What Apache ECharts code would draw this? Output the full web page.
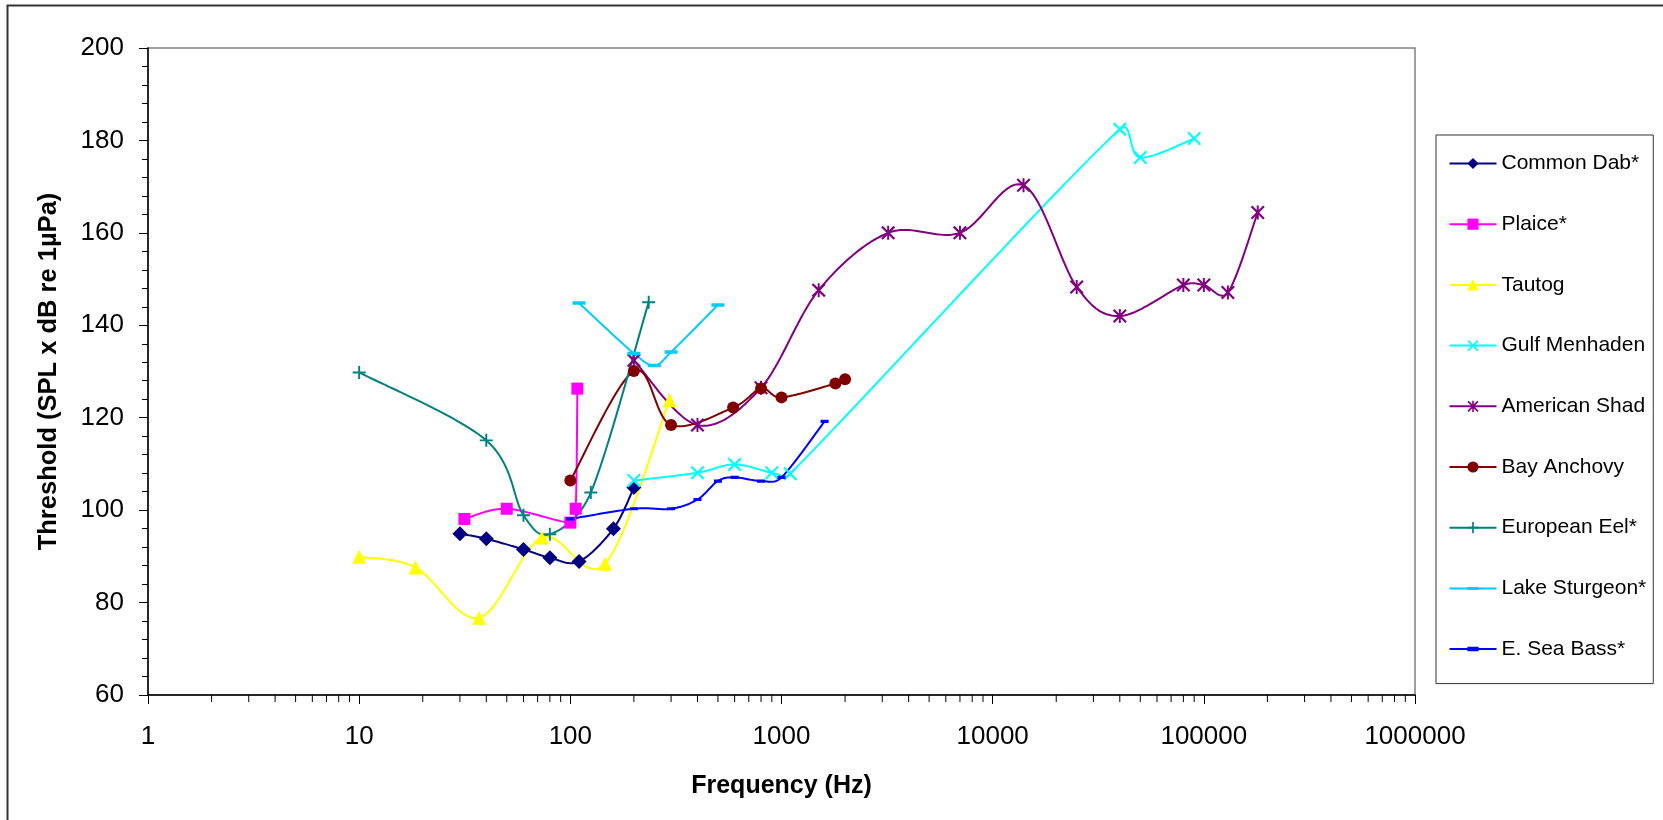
<!DOCTYPE html>
<html>
<head>
<meta charset="utf-8">
<script src="https://cdn.jsdelivr.net/npm/echarts@6/dist/echarts.min.js"></script>
<style>
html,body{margin:0;padding:0;background:#fff;}
#chart{width:1663px;height:820px;}
</style>
</head>
<body>
<div id="chart"></div>
<script>
// ---- data ----
const seriesNames = ['Common Dab*','Plaice*','Tautog','Gulf Menhaden','American Shad','Bay Anchovy','European Eel*','Lake Sturgeon*','E. Sea Bass*'];
const xTickLabels = ['1','10','100','1000','10000','100000','1000000'];
const yTickLabels = [60,80,100,120,140,160,180,200];
const xMinorTicks = [2,3,4,5,6,7,8,9,20,30,40,50,60,70,80,90,200,300,400,500,600,700,800,900,
  2000,3000,4000,5000,6000,7000,8000,9000,20000,30000,40000,50000,60000,70000,80000,90000,
  200000,300000,400000,500000,600000,700000,800000,900000];

const dabFreq = [30,40,60,80,110,160,200];
const dabThr  = [94.9,93.8,91.5,89.7,88.9,96.0,104.9];

const plaiceFreq = [31.5,50,100,106,108];
const plaiceThr  = [98.1,100.3,97.3,100.3,126.3];

const tautogFreq = [10,18.5,37,73.5,146,295];
const tautogThr  = [89.9,87.6,76.7,94.1,88.4,123.8];

const menhadenFreq = [200,400,600,900,1100,40000,50000,90000];
const menhadenThr  = [106.4,108.1,109.9,108.1,107.9,182.4,176.3,180.4];

const shadFreq = [200,400,800,1500,3200,7000,14000,25000,40000,80000,100000,130000,180000];
const shadThr  = [132.4,118.4,126.5,147.6,160,160,170.3,148.3,142,148.7,148.7,147.1,164.4];

const anchovyFreq = [100,200,300,590,800,1000,1800,2000];
const anchovyThr  = [106.4,130.1,118.4,122.2,126.3,124.4,127.4,128.3];

const eelFreq = [10,40,60,80,125,235];
const eelThr  = [129.8,115.1,98.9,94.8,103.8,145.0];

const sturgeonFreq = [110,200,250,300,500];
const sturgeonThr  = [144.8,133.9,131.3,134.2,144.4];

const seaBassFreq = [100,200,300,400,500,600,800,1000,1600];
const seaBassThr  = [98.1,100.3,100.3,102.3,106.3,107.1,106.3,107.1,119.2];

// ---- styles ----
const FONT = '"Liberation Sans", Arial, sans-serif';
const SYM_X = 'path://M0,1.1L1.1,0L5,3.9L8.9,0L10,1.1L6.1,5L10,8.9L8.9,10L5,6.1L1.1,10L0,8.9L3.9,5Z';
const SYM_AST = 'path://M0,1.1L1.1,0L5,3.9L8.9,0L10,1.1L6.1,5L10,8.9L8.9,10L5,6.1L1.1,10L0,8.9L3.9,5ZM4.3,0H5.7V10H4.3Z';
const SYM_PLUS = 'path://M4.25,0H5.75V4.25H10V5.75H5.75V10H4.25V5.75H0V4.25H4.25Z';
const SYM_DASH = 'path://M0,0L0.01,0M12,12L11.99,12M0,4.4H12V7.6H0Z';
const SYM_SDASH = 'path://M0,0L0.01,0M10,10L9.99,10M0,3H10V7H0Z';

const specs = [
  {name: seriesNames[0], f: dabFreq, v: dabThr, color: '#000080', symbol: 'diamond', size: 15},
  {name: seriesNames[1], f: plaiceFreq, v: plaiceThr, color: '#FF00FF', symbol: 'rect', size: 12},
  {name: seriesNames[2], f: tautogFreq, v: tautogThr, color: '#FFFF00', symbol: 'triangle', size: 14},
  {name: seriesNames[3], f: menhadenFreq, v: menhadenThr, color: '#00FFFF', symbol: SYM_X, size: 14},
  {name: seriesNames[4], f: shadFreq, v: shadThr, color: '#800080', symbol: SYM_AST, size: 14},
  {name: seriesNames[5], f: anchovyFreq, v: anchovyThr, color: '#800000', symbol: 'circle', size: 12},
  {name: seriesNames[6], f: eelFreq, v: eelThr, color: '#008080', symbol: SYM_PLUS, size: 13},
  {name: seriesNames[7], f: sturgeonFreq, v: sturgeonThr, color: '#00CCFF', symbol: SYM_DASH, size: 13},
  {name: seriesNames[8], f: seaBassFreq, v: seaBassThr, color: '#0000FF', symbol: SYM_SDASH, size: 8}
];

// Excel-like smoothed curve (cardinal/Catmull-Rom Bezier) computed in pixel space via the axes
function smoothRenderer(fs, vs, color){
  return function(params, api){
    const pts = fs.map((f, i) => api.coord([f, vs[i]]));
    const n = pts.length;
    const out = [];
    out.push([pts[0][0], pts[0][1]]);
    for (let i = 0; i < n - 1; i++){
      const p0 = pts[i-1] || pts[i], p1 = pts[i], p2 = pts[i+1], p3 = pts[i+2] || pts[i+1];
      const seg = Math.hypot(p2[0]-p1[0], p2[1]-p1[1]);
      const clamp = t => {
        const L = Math.hypot(t[0], t[1]), m = seg * 0.5;
        return (L > m && L > 0) ? [t[0]*m/L, t[1]*m/L] : t;
      };
      const t1 = clamp([(p2[0]-p0[0])/6, (p2[1]-p0[1])/6]);
      const t2 = clamp([(p3[0]-p1[0])/6, (p3[1]-p1[1])/6]);
      const c1 = [p1[0]+t1[0], p1[1]+t1[1]];
      const c2 = [p2[0]-t2[0], p2[1]-t2[1]];
      const steps = 24;
      for (let s = 1; s <= steps; s++){
        const t = s/steps, u = 1-t;
        const a = u*u*u, b = 3*u*u*t, c = 3*u*t*t, d = t*t*t;
        out.push([a*p1[0]+b*c1[0]+c*c2[0]+d*p2[0], a*p1[1]+b*c1[1]+c*c2[1]+d*p2[1]]);
      }
    }
    return {type: 'polyline', shape: {points: out},
            style: {stroke: color, lineWidth: 2, fill: null, lineJoin: 'round', lineCap: 'round'}};
  };
}

const series = [];
specs.forEach(s => {
  series.push({
    type: 'custom', silent: true, clip: false, z: 2,
    data: [[s.f[0], s.v[0]]],
    encode: {x: 0, y: 1},
    renderItem: smoothRenderer(s.f, s.v, s.color)
  });
});
specs.forEach(s => {
  series.push({
    name: s.name, type: 'line',
    data: s.f.map((f, i) => [f, s.v[i]]),
    symbol: s.symbol, symbolSize: s.size,
    showSymbol: true, showAllSymbol: true,
    lineStyle: {color: s.color, width: 2, opacity: 0},
    itemStyle: {color: s.color, borderWidth: 0},
    emphasis: {disabled: true},
    z: 3
  });
});

// minor log ticks along the x axis, placed through the axis scale
series.push({
  type: 'custom', silent: true, clip: false, z: 1,
  data: xMinorTicks.map(v => [v, yTickLabels[0]]),
  encode: {x: 0, y: 1},
  renderItem: function(params, api){
    const p = api.coord([api.value(0), api.value(1)]);
    return {type: 'line', shape: {x1: p[0], y1: p[1], x2: p[0], y2: p[1] + 7},
            style: {stroke: '#000', lineWidth: 1}};
  }
});

const chart = echarts.init(document.getElementById('chart'), null, {renderer: 'canvas'});
chart.setOption({
  animation: false,
  backgroundColor: '#ffffff',
  textStyle: {fontFamily: FONT},
  graphic: [{
    type: 'rect', z: -1, silent: true,
    shape: {x: 7.5, y: 5.5, width: 1700, height: 900},
    style: {fill: 'none', stroke: '#333333', lineWidth: 2}
  }],
  grid: {
    left: 148, top: 48, width: 1267, height: 647,
    show: true, borderColor: '#808080', borderWidth: 1.5, backgroundColor: 'transparent',
    containLabel: false
  },
  legend: {
    data: specs.map(s => ({name: s.name, lineStyle: {color: s.color, width: 2, opacity: 1}})),
    orient: 'vertical',
    left: 1436, top: 135,
    itemWidth: 47, itemHeight: 14, itemGap: 39.7,
    padding: [18, 7, 24, 12.5],
    backgroundColor: '#ffffff',
    borderColor: '#333333', borderWidth: 1,
    textStyle: {fontFamily: FONT, fontSize: 21, color: '#000'},
    selectedMode: false
  },
  xAxis: {
    type: 'log', logBase: 10, min: 1, max: 1000000, splitNumber: 6,
    name: 'Frequency (Hz)', nameLocation: 'middle', nameGap: 79,
    nameTextStyle: {fontFamily: FONT, fontSize: 25, fontWeight: 'bold', color: '#000'},
    axisLine: {show: true, onZero: false, lineStyle: {color: '#000', width: 1.5}},
    axisTick: {show: true, inside: false, length: 9, lineStyle: {color: '#000', width: 1}},
    minorTick: {show: false},
    splitLine: {show: false},
    axisLabel: {
      fontFamily: FONT, fontSize: 26, color: '#000', margin: 29,
      formatter: function(v){
        const k = Math.round(Math.log10(v));
        return xTickLabels[k] !== undefined ? xTickLabels[k] : String(Math.round(v));
      }
    }
  },
  yAxis: {
    type: 'value', min: yTickLabels[0], max: yTickLabels[yTickLabels.length-1], interval: 20,
    name: 'Threshold (SPL x dB re 1µPa)', nameLocation: 'middle', nameGap: 86,
    nameTextStyle: {fontFamily: FONT, fontSize: 25.5, fontWeight: 'bold', color: '#000'},
    axisLine: {show: true, lineStyle: {color: '#000', width: 1.5}},
    axisTick: {show: true, inside: false, length: 9, lineStyle: {color: '#000', width: 1}},
    minorTick: {show: true, splitNumber: 5, length: 6, lineStyle: {color: '#000', width: 1}},
    splitLine: {show: false},
    axisLabel: {fontFamily: FONT, fontSize: 26, color: '#000', margin: 24}
  },
  series: series
});
</script>
</body>
</html>
